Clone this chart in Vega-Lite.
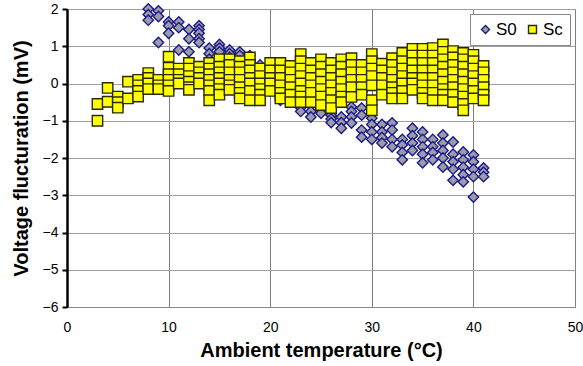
{
"$schema": "https://vega.github.io/schema/vega-lite/v6.json",
"width": 508, "height": 298,
"autosize": {"type": "none"},
"padding": {"left": 67, "top": 9, "right": 8, "bottom": 59},
"background": "white",
"config": {
  "font": "Liberation Sans",
  "view": {"stroke": "#888888", "strokeWidth": 1},
  "axis": {"labelFont": "Liberation Sans", "titleFont": "Liberation Sans", "labelColor": "black", "titleColor": "black"},
  "legend": {"labelFont": "Liberation Sans", "orient": "top-right", "offset": 5, "direction": "horizontal", "gridAlign": "none", "strokeColor": "#888888", "fillColor": "white", "padding": 7, "labelFontSize": 17, "symbolSize": 64, "symbolStrokeWidth": 1.4, "columnPadding": 7, "labelOffset": 2}
},
"datasets": {
"d": [
{"s":"S0","t":8,"v":2.0},{"s":"S0","t":8,"v":1.85},{"s":"S0","t":8,"v":1.7},
{"s":"S0","t":9,"v":1.95},{"s":"S0","t":9,"v":1.8},{"s":"S0","t":9,"v":1.1},
{"s":"S0","t":10,"v":1.65},{"s":"S0","t":10,"v":1.55},{"s":"S0","t":10,"v":1.35},
{"s":"S0","t":11,"v":1.65},{"s":"S0","t":11,"v":1.5},{"s":"S0","t":11,"v":0.9},
{"s":"S0","t":12,"v":1.45},{"s":"S0","t":12,"v":1.2},{"s":"S0","t":12,"v":0.85},
{"s":"S0","t":13,"v":1.55},{"s":"S0","t":13,"v":1.45},{"s":"S0","t":13,"v":1.35},{"s":"S0","t":13,"v":1.2},{"s":"S0","t":13,"v":1.1},
{"s":"S0","t":14,"v":0.95},{"s":"S0","t":14,"v":0.8},{"s":"S0","t":14,"v":0.65},
{"s":"S0","t":15,"v":1.05},{"s":"S0","t":15,"v":0.95},{"s":"S0","t":15,"v":0.85},
{"s":"S0","t":16,"v":0.9},{"s":"S0","t":16,"v":0.8},{"s":"S0","t":16,"v":0.7},
{"s":"S0","t":17,"v":0.85},{"s":"S0","t":17,"v":0.75},
{"s":"S0","t":18,"v":0.75},{"s":"S0","t":18,"v":0.6},
{"s":"S0","t":19,"v":0.5},{"s":"S0","t":19,"v":0.3},{"s":"S0","t":19,"v":0.1},
{"s":"S0","t":20,"v":0.2},{"s":"S0","t":20,"v":0.0},{"s":"S0","t":20,"v":-0.2},
{"s":"S0","t":21,"v":-0.2},{"s":"S0","t":21,"v":-0.45},
{"s":"S0","t":22,"v":-0.3},{"s":"S0","t":22,"v":-0.5},
{"s":"S0","t":23,"v":-0.5},{"s":"S0","t":23,"v":-0.65},{"s":"S0","t":23,"v":-0.75},
{"s":"S0","t":24,"v":-0.6},{"s":"S0","t":24,"v":-0.75},{"s":"S0","t":24,"v":-0.9},
{"s":"S0","t":25,"v":-0.55},{"s":"S0","t":25,"v":-0.7},{"s":"S0","t":25,"v":-0.8},
{"s":"S0","t":26,"v":-0.85},{"s":"S0","t":26,"v":-0.95},{"s":"S0","t":26,"v":-1.05},
{"s":"S0","t":27,"v":-0.9},{"s":"S0","t":27,"v":-1.05},{"s":"S0","t":27,"v":-1.2},
{"s":"S0","t":28,"v":-0.63},{"s":"S0","t":28,"v":-0.75},{"s":"S0","t":28,"v":-0.9},{"s":"S0","t":28,"v":-1.06},
{"s":"S0","t":29,"v":-0.66},{"s":"S0","t":29,"v":-0.85},{"s":"S0","t":29,"v":-1.25},{"s":"S0","t":29,"v":-1.44},
{"s":"S0","t":30,"v":-0.93},{"s":"S0","t":30,"v":-1.1},{"s":"S0","t":30,"v":-1.3},{"s":"S0","t":30,"v":-1.5},
{"s":"S0","t":31,"v":-1.1},{"s":"S0","t":31,"v":-1.3},{"s":"S0","t":31,"v":-1.45},{"s":"S0","t":31,"v":-1.6},
{"s":"S0","t":32,"v":-1.06},{"s":"S0","t":32,"v":-1.25},{"s":"S0","t":32,"v":-1.5},{"s":"S0","t":32,"v":-1.7},
{"s":"S0","t":33,"v":-1.5},{"s":"S0","t":33,"v":-1.65},{"s":"S0","t":33,"v":-1.85},{"s":"S0","t":33,"v":-2.05},
{"s":"S0","t":34,"v":-1.2},{"s":"S0","t":34,"v":-1.4},{"s":"S0","t":34,"v":-1.6},{"s":"S0","t":34,"v":-1.8},
{"s":"S0","t":35,"v":-1.3},{"s":"S0","t":35,"v":-1.5},{"s":"S0","t":35,"v":-1.7},{"s":"S0","t":35,"v":-1.9},{"s":"S0","t":35,"v":-2.13},
{"s":"S0","t":36,"v":-1.5},{"s":"S0","t":36,"v":-1.7},{"s":"S0","t":36,"v":-1.85},{"s":"S0","t":36,"v":-2.05},
{"s":"S0","t":37,"v":-1.38},{"s":"S0","t":37,"v":-1.6},{"s":"S0","t":37,"v":-1.8},{"s":"S0","t":37,"v":-2.0},{"s":"S0","t":37,"v":-2.24},
{"s":"S0","t":38,"v":-1.57},{"s":"S0","t":38,"v":-1.9},{"s":"S0","t":38,"v":-2.1},{"s":"S0","t":38,"v":-2.3},{"s":"S0","t":38,"v":-2.6},
{"s":"S0","t":39,"v":-1.84},{"s":"S0","t":39,"v":-2.05},{"s":"S0","t":39,"v":-2.25},{"s":"S0","t":39,"v":-2.45},{"s":"S0","t":39,"v":-2.64},
{"s":"S0","t":40,"v":-1.92},{"s":"S0","t":40,"v":-2.1},{"s":"S0","t":40,"v":-2.3},{"s":"S0","t":40,"v":-2.5},{"s":"S0","t":40,"v":-3.05},
{"s":"S0","t":41,"v":-2.27},{"s":"S0","t":41,"v":-2.38},{"s":"S0","t":41,"v":-2.5},
{"s":"Sc","t":3,"v":-1.0},{"s":"Sc","t":3,"v":-0.55},
{"s":"Sc","t":4,"v":-0.12},{"s":"Sc","t":4,"v":-0.49},
{"s":"Sc","t":5,"v":-0.35},{"s":"Sc","t":5,"v":-0.5},{"s":"Sc","t":5,"v":-0.65},
{"s":"Sc","t":6,"v":0.05},{"s":"Sc","t":6,"v":-0.4},
{"s":"Sc","t":7,"v":0.1},{"s":"Sc","t":7,"v":-0.05},{"s":"Sc","t":7,"v":-0.2},{"s":"Sc","t":7,"v":-0.35},
{"s":"Sc","t":8,"v":0.28},{"s":"Sc","t":8,"v":0.15},{"s":"Sc","t":8,"v":0.0},{"s":"Sc","t":8,"v":-0.15},
{"s":"Sc","t":9,"v":0.1},{"s":"Sc","t":9,"v":-0.05},{"s":"Sc","t":9,"v":-0.15},
{"s":"Sc","t":10,"v":0.72},{"s":"Sc","t":10,"v":0.42},{"s":"Sc","t":10,"v":0.25},{"s":"Sc","t":10,"v":0.1},{"s":"Sc","t":10,"v":-0.05},{"s":"Sc","t":10,"v":-0.2},
{"s":"Sc","t":11,"v":0.4},{"s":"Sc","t":11,"v":0.25},{"s":"Sc","t":11,"v":0.1},{"s":"Sc","t":11,"v":0.0},
{"s":"Sc","t":12,"v":0.55},{"s":"Sc","t":12,"v":0.4},{"s":"Sc","t":12,"v":0.2},{"s":"Sc","t":12,"v":0.05},{"s":"Sc","t":12,"v":-0.1},{"s":"Sc","t":12,"v":-0.17},
{"s":"Sc","t":13,"v":0.45},{"s":"Sc","t":13,"v":0.3},{"s":"Sc","t":13,"v":0.15},{"s":"Sc","t":13,"v":0.0},
{"s":"Sc","t":14,"v":0.55},{"s":"Sc","t":14,"v":0.4},{"s":"Sc","t":14,"v":0.25},{"s":"Sc","t":14,"v":0.1},{"s":"Sc","t":14,"v":-0.05},{"s":"Sc","t":14,"v":-0.2},{"s":"Sc","t":14,"v":-0.45},
{"s":"Sc","t":15,"v":0.65},{"s":"Sc","t":15,"v":0.45},{"s":"Sc","t":15,"v":0.3},{"s":"Sc","t":15,"v":0.15},{"s":"Sc","t":15,"v":0.0},{"s":"Sc","t":15,"v":-0.15},{"s":"Sc","t":15,"v":-0.3},
{"s":"Sc","t":16,"v":0.65},{"s":"Sc","t":16,"v":0.5},{"s":"Sc","t":16,"v":0.3},{"s":"Sc","t":16,"v":0.1},{"s":"Sc","t":16,"v":-0.05},{"s":"Sc","t":16,"v":-0.17},
{"s":"Sc","t":17,"v":0.6},{"s":"Sc","t":17,"v":0.45},{"s":"Sc","t":17,"v":0.3},{"s":"Sc","t":17,"v":0.1},{"s":"Sc","t":17,"v":-0.1},{"s":"Sc","t":17,"v":-0.25},{"s":"Sc","t":17,"v":-0.4},
{"s":"Sc","t":18,"v":0.7},{"s":"Sc","t":18,"v":0.5},{"s":"Sc","t":18,"v":0.35},{"s":"Sc","t":18,"v":0.15},{"s":"Sc","t":18,"v":0.0},{"s":"Sc","t":18,"v":-0.2},{"s":"Sc","t":18,"v":-0.45},
{"s":"Sc","t":19,"v":0.4},{"s":"Sc","t":19,"v":0.2},{"s":"Sc","t":19,"v":0.0},{"s":"Sc","t":19,"v":-0.15},{"s":"Sc","t":19,"v":-0.3},{"s":"Sc","t":19,"v":-0.45},
{"s":"Sc","t":20,"v":0.55},{"s":"Sc","t":20,"v":0.35},{"s":"Sc","t":20,"v":0.15},{"s":"Sc","t":20,"v":0.0},{"s":"Sc","t":20,"v":-0.2},
{"s":"Sc","t":21,"v":0.55},{"s":"Sc","t":21,"v":0.35},{"s":"Sc","t":21,"v":0.15},{"s":"Sc","t":21,"v":-0.05},{"s":"Sc","t":21,"v":-0.25},{"s":"Sc","t":21,"v":-0.4},
{"s":"Sc","t":22,"v":0.47},{"s":"Sc","t":22,"v":0.3},{"s":"Sc","t":22,"v":0.1},{"s":"Sc","t":22,"v":-0.1},{"s":"Sc","t":22,"v":-0.3},{"s":"Sc","t":22,"v":-0.5},
{"s":"Sc","t":23,"v":0.79},{"s":"Sc","t":23,"v":0.6},{"s":"Sc","t":23,"v":0.4},{"s":"Sc","t":23,"v":0.2},{"s":"Sc","t":23,"v":0.0},{"s":"Sc","t":23,"v":-0.2},{"s":"Sc","t":23,"v":-0.35},{"s":"Sc","t":23,"v":-0.5},
{"s":"Sc","t":24,"v":0.55},{"s":"Sc","t":24,"v":0.35},{"s":"Sc","t":24,"v":0.15},{"s":"Sc","t":24,"v":-0.05},{"s":"Sc","t":24,"v":-0.25},{"s":"Sc","t":24,"v":-0.5},
{"s":"Sc","t":25,"v":0.65},{"s":"Sc","t":25,"v":0.45},{"s":"Sc","t":25,"v":0.25},{"s":"Sc","t":25,"v":0.05},{"s":"Sc","t":25,"v":-0.15},{"s":"Sc","t":25,"v":-0.35},{"s":"Sc","t":25,"v":-0.58},
{"s":"Sc","t":26,"v":0.55},{"s":"Sc","t":26,"v":0.35},{"s":"Sc","t":26,"v":0.15},{"s":"Sc","t":26,"v":-0.05},{"s":"Sc","t":26,"v":-0.25},{"s":"Sc","t":26,"v":-0.45},{"s":"Sc","t":26,"v":-0.66},
{"s":"Sc","t":27,"v":0.65},{"s":"Sc","t":27,"v":0.45},{"s":"Sc","t":27,"v":0.25},{"s":"Sc","t":27,"v":0.05},{"s":"Sc","t":27,"v":-0.15},{"s":"Sc","t":27,"v":-0.35},{"s":"Sc","t":27,"v":-0.5},
{"s":"Sc","t":28,"v":0.68},{"s":"Sc","t":28,"v":0.5},{"s":"Sc","t":28,"v":0.3},{"s":"Sc","t":28,"v":0.1},{"s":"Sc","t":28,"v":-0.1},{"s":"Sc","t":28,"v":-0.36},
{"s":"Sc","t":29,"v":0.5},{"s":"Sc","t":29,"v":0.3},{"s":"Sc","t":29,"v":0.1},{"s":"Sc","t":29,"v":-0.1},{"s":"Sc","t":29,"v":-0.3},
{"s":"Sc","t":30,"v":0.79},{"s":"Sc","t":30,"v":0.6},{"s":"Sc","t":30,"v":0.4},{"s":"Sc","t":30,"v":0.2},{"s":"Sc","t":30,"v":-0.05},{"s":"Sc","t":30,"v":-0.45},{"s":"Sc","t":30,"v":-0.72},
{"s":"Sc","t":31,"v":0.53},{"s":"Sc","t":31,"v":0.35},{"s":"Sc","t":31,"v":0.15},{"s":"Sc","t":31,"v":-0.05},{"s":"Sc","t":31,"v":-0.3},
{"s":"Sc","t":32,"v":0.68},{"s":"Sc","t":32,"v":0.5},{"s":"Sc","t":32,"v":0.3},{"s":"Sc","t":32,"v":0.1},{"s":"Sc","t":32,"v":-0.1},{"s":"Sc","t":32,"v":-0.25},{"s":"Sc","t":32,"v":-0.4},
{"s":"Sc","t":33,"v":0.82},{"s":"Sc","t":33,"v":0.6},{"s":"Sc","t":33,"v":0.4},{"s":"Sc","t":33,"v":0.2},{"s":"Sc","t":33,"v":0.0},{"s":"Sc","t":33,"v":-0.2},{"s":"Sc","t":33,"v":-0.4},
{"s":"Sc","t":34,"v":0.93},{"s":"Sc","t":34,"v":0.75},{"s":"Sc","t":34,"v":0.55},{"s":"Sc","t":34,"v":0.35},{"s":"Sc","t":34,"v":0.15},{"s":"Sc","t":34,"v":0.0},{"s":"Sc","t":34,"v":-0.17},
{"s":"Sc","t":35,"v":0.93},{"s":"Sc","t":35,"v":0.75},{"s":"Sc","t":35,"v":0.55},{"s":"Sc","t":35,"v":0.35},{"s":"Sc","t":35,"v":0.15},{"s":"Sc","t":35,"v":-0.05},{"s":"Sc","t":35,"v":-0.25},{"s":"Sc","t":35,"v":-0.4},
{"s":"Sc","t":36,"v":0.95},{"s":"Sc","t":36,"v":0.75},{"s":"Sc","t":36,"v":0.55},{"s":"Sc","t":36,"v":0.35},{"s":"Sc","t":36,"v":0.15},{"s":"Sc","t":36,"v":-0.05},{"s":"Sc","t":36,"v":-0.25},{"s":"Sc","t":36,"v":-0.45},
{"s":"Sc","t":37,"v":1.05},{"s":"Sc","t":37,"v":0.85},{"s":"Sc","t":37,"v":0.65},{"s":"Sc","t":37,"v":0.45},{"s":"Sc","t":37,"v":0.25},{"s":"Sc","t":37,"v":0.05},{"s":"Sc","t":37,"v":-0.15},{"s":"Sc","t":37,"v":-0.3},{"s":"Sc","t":37,"v":-0.45},
{"s":"Sc","t":38,"v":0.87},{"s":"Sc","t":38,"v":0.7},{"s":"Sc","t":38,"v":0.5},{"s":"Sc","t":38,"v":0.3},{"s":"Sc","t":38,"v":0.1},{"s":"Sc","t":38,"v":-0.1},{"s":"Sc","t":38,"v":-0.3},{"s":"Sc","t":38,"v":-0.5},
{"s":"Sc","t":39,"v":0.82},{"s":"Sc","t":39,"v":0.65},{"s":"Sc","t":39,"v":0.45},{"s":"Sc","t":39,"v":0.25},{"s":"Sc","t":39,"v":0.05},{"s":"Sc","t":39,"v":-0.15},{"s":"Sc","t":39,"v":-0.35},{"s":"Sc","t":39,"v":-0.55},{"s":"Sc","t":39,"v":-0.72},
{"s":"Sc","t":40,"v":0.77},{"s":"Sc","t":40,"v":0.6},{"s":"Sc","t":40,"v":0.4},{"s":"Sc","t":40,"v":0.2},{"s":"Sc","t":40,"v":0.0},{"s":"Sc","t":40,"v":-0.2},{"s":"Sc","t":40,"v":-0.4},
{"s":"Sc","t":41,"v":0.47},{"s":"Sc","t":41,"v":0.3},{"s":"Sc","t":41,"v":0.1},{"s":"Sc","t":41,"v":-0.1},{"s":"Sc","t":41,"v":-0.3},{"s":"Sc","t":41,"v":-0.45}
]},
"data": {"name": "d"},
"mark": {"type": "point", "filled": true, "opacity": 1, "size": 108, "strokeWidth": 1.4, "strokeOpacity": 1},
"encoding": {
  "x": {"field": "t", "type": "quantitative",
    "scale": {"domain": [0, 50], "nice": false, "zero": false},
    "axis": {"values": [0,10,20,30,40,50], "title": "Ambient temperature (°C)", "titleFontSize": 20, "titleFontWeight": "bold",
      "labelFontSize": 14, "tickSize": 0, "labelPadding": 13, "titlePadding": 6,
      "grid": true, "gridColor": "#7f7f7f", "gridWidth": 1, "domainColor": "#888888", "domainWidth": 1,
      "labelFlush": false}},
  "y": {"field": "v", "type": "quantitative",
    "scale": {"domain": [-6, 2], "nice": false, "zero": false},
    "axis": {"values": [-6,-5,-4,-3,-2,-1,0,1,2], "title": "Voltage flucturation (mV)", "titleFontSize": 20, "titleFontWeight": "bold",
      "labelFontSize": 14, "tickSize": 5, "tickColor": "black", "tickWidth": 2, "labelPadding": 4, "titlePadding": 11,
      "grid": true, "gridColor": "#a0a0a0", "gridWidth": 1, "domainColor": "black", "domainWidth": 2.5,
      "labelFlush": false, "format": "d"}},
  "shape": {"field": "s", "type": "nominal", "title": null, "scale": {"domain": ["S0","Sc"], "range": ["diamond","square"]}},
  "fill": {"field": "s", "type": "nominal", "title": null, "scale": {"domain": ["S0","Sc"], "range": ["#9c9ca6","#ffff00"]}},
  "stroke": {"field": "s", "type": "nominal", "title": null, "scale": {"domain": ["S0","Sc"], "range": ["#1a1a8c","#2a2a00"]}},
  "order": {"field": "s", "type": "nominal", "sort": "ascending"}
}
}
